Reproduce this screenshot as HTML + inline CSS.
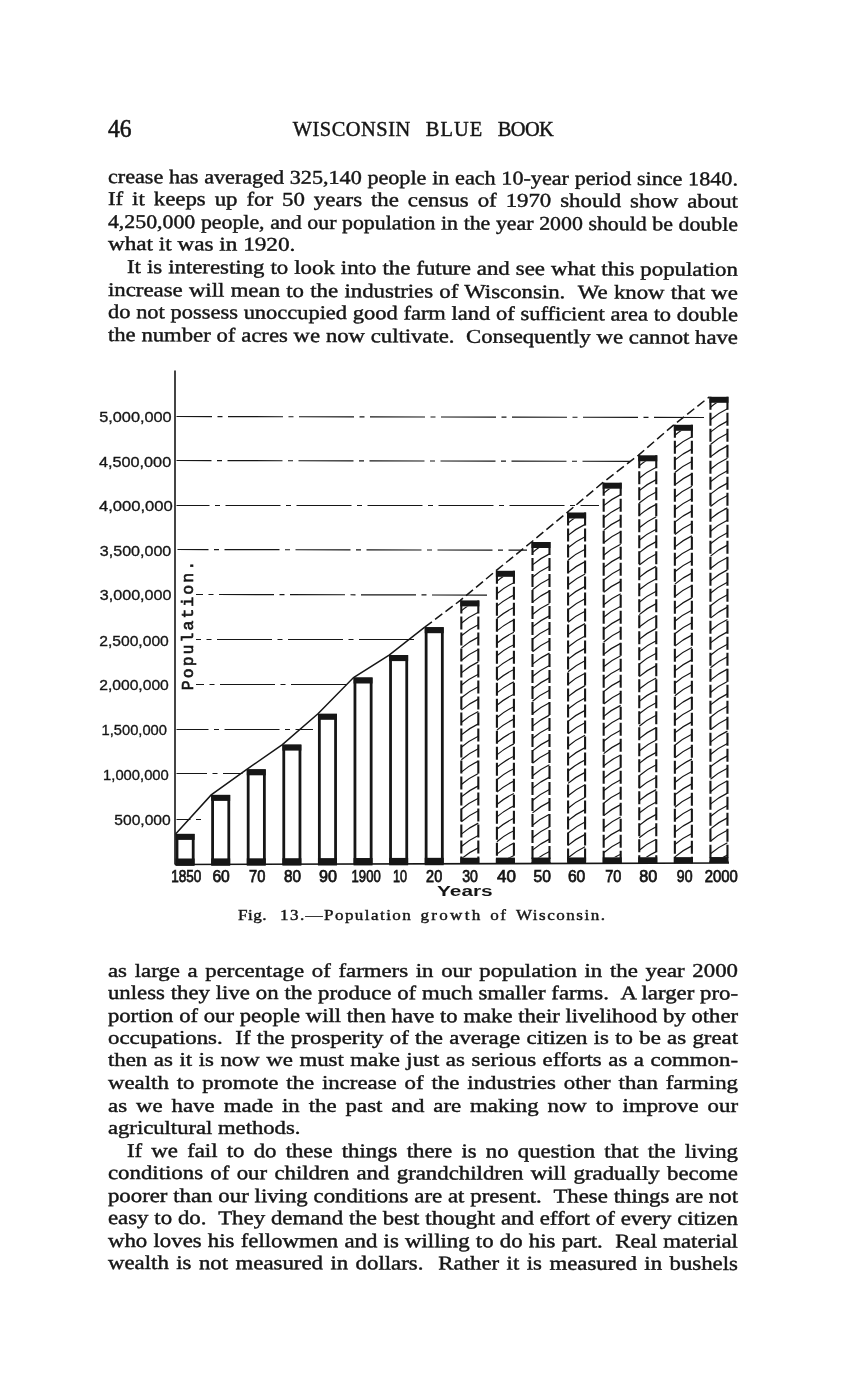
<!DOCTYPE html>
<html><head><meta charset="utf-8"><title>Wisconsin Blue Book, p. 46</title>
<style>
html,body{margin:0;padding:0;background:#fff;}
body{width:859px;height:1380px;position:relative;overflow:hidden;}
.l{position:absolute;white-space:nowrap;font-family:"Liberation Serif",serif;color:#161616;-webkit-text-stroke:0.42px #161616;transform-origin:0 0;}
.j{text-align:justify;text-align-last:justify;white-space:nowrap;}
svg{position:absolute;left:0;top:0;}
.s{font-family:"Liberation Serif",serif;fill:#161616;stroke:#161616;}
.a{font-family:"Liberation Sans",sans-serif;fill:#161616;}
</style></head><body>

<div class="l j" style="left:107.6px;top:165.52px;width:555.02px;height:22.0px;line-height:22.0px;font-size:19.5px;transform:rotate(0.218deg) scaleX(1.1351);">crease has averaged 325,140 people in each 10-year period since 1840.</div>
<div class="l j" style="left:107.6px;top:188.02px;width:538.46px;height:22.0px;line-height:22.0px;font-size:19.5px;transform:rotate(0.236deg) scaleX(1.1700);">If it keeps up for 50 years the census of 1970 should show about</div>
<div class="l j" style="left:107.6px;top:210.72px;width:562.77px;height:22.0px;line-height:22.0px;font-size:19.5px;transform:rotate(0.246deg) scaleX(1.1195);">4,250,000 people, and our population in the year 2000 should be double</div>
<div class="l" style="left:107.6px;top:233.42px;line-height:22.0px;font-size:19.5px;transform:rotate(0.236deg) scaleX(1.1890);">what it was in 1920.</div>
<div class="l j" style="left:126.6px;top:256.02px;width:522.22px;height:22.0px;line-height:22.0px;font-size:19.5px;transform:rotate(0.273deg) scaleX(1.1700);">It is interesting to look into the future and see what this population</div>
<div class="l j" style="left:107.6px;top:278.52px;width:538.46px;height:22.0px;line-height:22.0px;font-size:19.5px;transform:rotate(0.291deg) scaleX(1.1700);">increase will mean to the industries of Wisconsin. &nbsp;We know that we</div>
<div class="l j" style="left:107.6px;top:301.22px;width:547.71px;height:22.0px;line-height:22.0px;font-size:19.5px;transform:rotate(0.273deg) scaleX(1.1503);">do not possess unoccupied good farm land of sufficient area to double</div>
<div class="l j" style="left:107.6px;top:323.62px;width:542.03px;height:22.0px;line-height:22.0px;font-size:19.5px;transform:rotate(0.264deg) scaleX(1.1623);">the number of acres we now cultivate. &nbsp;Consequently we cannot have</div>
<div class="l j" style="left:107.6px;top:959.82px;width:538.46px;height:22.0px;line-height:22.0px;font-size:19.5px;transform:rotate(0.018deg) scaleX(1.1700);">as large a percentage of farmers in our population in the year 2000</div>
<div class="l j" style="left:107.6px;top:982.12px;width:539.54px;height:22.0px;line-height:22.0px;font-size:19.5px;transform:rotate(0.036deg) scaleX(1.1677);">unless they live on the produce of much smaller farms. &nbsp;A larger pro-</div>
<div class="l j" style="left:107.6px;top:1004.52px;width:543.18px;height:22.0px;line-height:22.0px;font-size:19.5px;transform:rotate(0.027deg) scaleX(1.1598);">portion of our people will then have to make their livelihood by other</div>
<div class="l j" style="left:107.6px;top:1027.02px;width:538.46px;height:22.0px;line-height:22.0px;font-size:19.5px;transform:rotate(0.000deg) scaleX(1.1700);">occupations. &nbsp;If the prosperity of the average citizen is to be as great</div>
<div class="l j" style="left:107.6px;top:1049.42px;width:538.46px;height:22.0px;line-height:22.0px;font-size:19.5px;transform:rotate(0.000deg) scaleX(1.1700);">then as it is now we must make just as serious efforts as a common-</div>
<div class="l j" style="left:107.6px;top:1072.12px;width:538.46px;height:22.0px;line-height:22.0px;font-size:19.5px;transform:rotate(0.000deg) scaleX(1.1700);">wealth to promote the increase of the industries other than farming</div>
<div class="l j" style="left:107.6px;top:1094.52px;width:538.46px;height:22.0px;line-height:22.0px;font-size:19.5px;transform:rotate(0.000deg) scaleX(1.1700);">as we have made in the past and are making now to improve our</div>
<div class="l" style="left:107.6px;top:1117.02px;line-height:22.0px;font-size:19.5px;transform:rotate(0.000deg) scaleX(1.1611);">agricultural methods.</div>
<div class="l j" style="left:126.6px;top:1140.32px;width:522.22px;height:22.0px;line-height:22.0px;font-size:19.5px;transform:rotate(0.064deg) scaleX(1.1700);">If we fail to do these things there is no question that the living</div>
<div class="l j" style="left:107.6px;top:1162.22px;width:538.46px;height:22.0px;line-height:22.0px;font-size:19.5px;transform:rotate(0.073deg) scaleX(1.1700);">conditions of our children and grandchildren will gradually become</div>
<div class="l j" style="left:107.6px;top:1185.02px;width:539.35px;height:22.0px;line-height:22.0px;font-size:19.5px;transform:rotate(0.055deg) scaleX(1.1681);">poorer than our living conditions are at present. &nbsp;These things are not</div>
<div class="l j" style="left:107.6px;top:1206.92px;width:538.46px;height:22.0px;line-height:22.0px;font-size:19.5px;transform:rotate(0.082deg) scaleX(1.1700);">easy to do. &nbsp;They demand the best thought and effort of every citizen</div>
<div class="l j" style="left:107.6px;top:1229.72px;width:538.46px;height:22.0px;line-height:22.0px;font-size:19.5px;transform:rotate(0.045deg) scaleX(1.1700);">who loves his fellowmen and is willing to do his part. &nbsp;Real material</div>
<div class="l j" style="left:107.6px;top:1252.02px;width:538.46px;height:22.0px;line-height:22.0px;font-size:19.5px;transform:rotate(0.082deg) scaleX(1.1700);">wealth is not measured in dollars. &nbsp;Rather it is measured in bushels</div>
<svg width="859" height="1380" viewBox="0 0 859 1380">
<text class="s" x="108.1" y="136.8" font-size="24.6" textLength="23.50" lengthAdjust="spacingAndGlyphs" stroke-width="0.6" >46</text>
<text class="s" x="292.8" y="136.3" font-size="20.4" textLength="117.40" lengthAdjust="spacing" stroke-width="0.45" >WISCONSIN</text>
<text class="s" x="425.8" y="136.3" font-size="20.4" textLength="56.40" lengthAdjust="spacing" stroke-width="0.45" >BLUE</text>
<text class="s" x="497.8" y="136.3" font-size="20.4" textLength="56.00" lengthAdjust="spacing" stroke-width="0.45" >BOOK</text>
<text class="s" transform="translate(238.1 919.8) scale(1.22 1)" x="0" y="0" font-size="14.0" textLength="23.36" lengthAdjust="spacing" stroke-width="0.4" >Fig.</text>
<text class="s" transform="translate(280.0 919.8) scale(1.22 1)" x="0" y="0" font-size="14.0" textLength="107.21" lengthAdjust="spacing" stroke-width="0.4" >13.—Population</text>
<text class="s" transform="translate(420.5 919.8) scale(1.22 1)" x="0" y="0" font-size="14.0" textLength="48.93" lengthAdjust="spacing" stroke-width="0.4" >growth</text>
<text class="s" transform="translate(490.3 919.8) scale(1.22 1)" x="0" y="0" font-size="14.0" textLength="12.87" lengthAdjust="spacing" stroke-width="0.4" >of</text>
<text class="s" transform="translate(515.9 919.8) scale(1.22 1)" x="0" y="0" font-size="14.0" textLength="73.03" lengthAdjust="spacing" stroke-width="0.4" >Wisconsin.</text>
<line x1="176.5" y1="416.5" x2="704" y2="417.50" stroke="#161616" stroke-width="1.15" stroke-dasharray="35.5 5.5 5 5.5 55 5.5 5 5.5 55 5.5 5 5.5 55 5.5 5 5.5 55 5.5 5 5.5 55 5.5 5 5.5 55 5.5 5 5.5 55 5.5 5 5.5 55 5.5 5 5.5 55"/>
<text x="99.2" y="422.3" textLength="72.5" lengthAdjust="spacingAndGlyphs" font-family="Liberation Sans, sans-serif" font-size="15.2" fill="#161616" stroke="#161616" stroke-width="0.35">5,000,000</text>
<line x1="176.5" y1="460.5" x2="630" y2="461.36" stroke="#161616" stroke-width="1.15" stroke-dasharray="35 5.5 5 5.5 55 5.5 5 5.5 55 5.5 5 5.5 55 5.5 5 5.5 55 5.5 5 5.5 55 5.5 5 5.5 55 5.5 5 5.5 55 5.5 5 5.5 55"/>
<text x="98.9" y="466.5" textLength="72.3" lengthAdjust="spacingAndGlyphs" font-family="Liberation Sans, sans-serif" font-size="15.2" fill="#161616" stroke="#161616" stroke-width="0.35">4,500,000</text>
<line x1="176.5" y1="505.5" x2="599" y2="505.50" stroke="#161616" stroke-width="1.15" stroke-dasharray="33 5.5 5 5.5 55 5.5 5 5.5 55 5.5 5 5.5 55 5.5 5 5.5 55 5.5 5 5.5 55 5.5 5 5.5 55 5.5 5 5.5 55"/>
<text x="98.9" y="510.5" textLength="73.9" lengthAdjust="spacingAndGlyphs" font-family="Liberation Sans, sans-serif" font-size="15.2" fill="#161616" stroke="#161616" stroke-width="0.35">4,000,000</text>
<line x1="177.5" y1="549.5" x2="527" y2="550.16" stroke="#161616" stroke-width="1.15" stroke-dasharray="31 5.5 5 5.5 55 5.5 5 5.5 55 5.5 5 5.5 55 5.5 5 5.5 55 5.5 5 5.5 55 5.5 5 5.5 55"/>
<text x="99.8" y="555.9" textLength="71.5" lengthAdjust="spacingAndGlyphs" font-family="Liberation Sans, sans-serif" font-size="15.2" fill="#161616" stroke="#161616" stroke-width="0.35">3,500,000</text>
<line x1="196" y1="594.5" x2="489" y2="595.06" stroke="#161616" stroke-width="1.15" stroke-dasharray="7 5.5 5 5.5 55 5.5 5 5.5 55 5.5 5 5.5 55 5.5 5 5.5 55 5.5 5 5.5 55 5.5 5 5.5 55"/>
<text x="99.8" y="600.2" textLength="71.7" lengthAdjust="spacingAndGlyphs" font-family="Liberation Sans, sans-serif" font-size="15.2" fill="#161616" stroke="#161616" stroke-width="0.35">3,000,000</text>
<line x1="196" y1="639.5" x2="419" y2="639.50" stroke="#161616" stroke-width="1.15" stroke-dasharray="5 5.5 5 5.5 55 5.5 5 5.5 55 5.5 5 5.5 55 5.5 5 5.5 55 5.5 5 5.5 55"/>
<text x="99.2" y="645.7" textLength="69.6" lengthAdjust="spacingAndGlyphs" font-family="Liberation Sans, sans-serif" font-size="15.2" fill="#161616" stroke="#161616" stroke-width="0.35">2,500,000</text>
<line x1="196" y1="684.5" x2="349" y2="684.50" stroke="#161616" stroke-width="1.15" stroke-dasharray="8 5.5 5 5.5 55 5.5 5 5.5 55 5.5 5 5.5 55 5.5 5 5.5 55"/>
<text x="99.2" y="689.8" textLength="69.6" lengthAdjust="spacingAndGlyphs" font-family="Liberation Sans, sans-serif" font-size="15.2" fill="#161616" stroke="#161616" stroke-width="0.35">2,000,000</text>
<line x1="176.5" y1="729.5" x2="313" y2="729.50" stroke="#161616" stroke-width="1.15" stroke-dasharray="32 5.5 5 5.5 55 5.5 5 5.5 55 5.5 5 5.5 55"/>
<text x="101.5" y="734.8" textLength="65.5" lengthAdjust="spacingAndGlyphs" font-family="Liberation Sans, sans-serif" font-size="15.2" fill="#161616" stroke="#161616" stroke-width="0.35">1,500,000</text>
<line x1="176.5" y1="773.5" x2="242.5" y2="773.50" stroke="#161616" stroke-width="1.15" stroke-dasharray="30.5 5.5 5 5.5 55 5.5 5 5.5 55"/>
<text x="103.1" y="780.2" textLength="65.7" lengthAdjust="spacingAndGlyphs" font-family="Liberation Sans, sans-serif" font-size="15.2" fill="#161616" stroke="#161616" stroke-width="0.35">1,000,000</text>
<line x1="176.5" y1="819.5" x2="206" y2="819.50" stroke="#161616" stroke-width="1.15" stroke-dasharray="14 5.5 5 5.5 55 5.5 5 5.5 55"/>
<text x="114.3" y="825.0" textLength="56.4" lengthAdjust="spacingAndGlyphs" font-family="Liberation Sans, sans-serif" font-size="15.2" fill="#161616" stroke="#161616" stroke-width="0.35">500,000</text>
<line x1="175.0" y1="370.5" x2="175.0" y2="864.5" stroke="#161616" stroke-width="1.6"/>
<line x1="174.9" y1="864.5" x2="729" y2="863.0" stroke="#161616" stroke-width="1.6"/>
<rect x="177.00" y="835.30" width="16.2" height="29.20" fill="none" stroke="#161616" stroke-width="2.8"/>
<rect x="175.60" y="833.90" width="19.0" height="6" fill="#161616"/>
<rect x="175.60" y="858.50" width="19.0" height="6" fill="#161616"/>
<rect x="212.59" y="796.30" width="16.2" height="68.10" fill="none" stroke="#161616" stroke-width="2.8"/>
<rect x="211.19" y="794.90" width="19.0" height="6" fill="#161616"/>
<rect x="211.19" y="858.40" width="19.0" height="6" fill="#161616"/>
<rect x="248.18" y="770.70" width="16.2" height="93.61" fill="none" stroke="#161616" stroke-width="2.8"/>
<rect x="246.78" y="769.30" width="19.0" height="6" fill="#161616"/>
<rect x="246.78" y="858.31" width="19.0" height="6" fill="#161616"/>
<rect x="283.77" y="746.00" width="16.2" height="118.21" fill="none" stroke="#161616" stroke-width="2.8"/>
<rect x="282.37" y="744.60" width="19.0" height="6" fill="#161616"/>
<rect x="282.37" y="858.21" width="19.0" height="6" fill="#161616"/>
<rect x="319.36" y="715.20" width="16.2" height="148.91" fill="none" stroke="#161616" stroke-width="2.8"/>
<rect x="317.96" y="713.80" width="19.0" height="6" fill="#161616"/>
<rect x="317.96" y="858.11" width="19.0" height="6" fill="#161616"/>
<rect x="354.95" y="678.90" width="16.2" height="185.12" fill="none" stroke="#161616" stroke-width="2.8"/>
<rect x="353.55" y="677.50" width="19.0" height="6" fill="#161616"/>
<rect x="353.55" y="858.02" width="19.0" height="6" fill="#161616"/>
<rect x="390.54" y="656.50" width="16.2" height="207.42" fill="none" stroke="#161616" stroke-width="2.8"/>
<rect x="389.14" y="655.10" width="19.0" height="6" fill="#161616"/>
<rect x="389.14" y="857.92" width="19.0" height="6" fill="#161616"/>
<rect x="426.13" y="628.60" width="16.2" height="235.22" fill="none" stroke="#161616" stroke-width="2.8"/>
<rect x="424.73" y="627.20" width="19.0" height="6" fill="#161616"/>
<rect x="424.73" y="857.82" width="19.0" height="6" fill="#161616"/>
<line x1="461.32" y1="600.4" x2="461.32" y2="863.7282616552222" stroke="#161616" stroke-width="2.1" stroke-dasharray="13 3"/>
<line x1="478.32" y1="600.4" x2="478.32" y2="863.7282616552222" stroke="#161616" stroke-width="2.1" stroke-dasharray="13 3"/>
<path d="M461.32 610.90 Q469.32 604.10 478.32 599.90" fill="none" stroke="#161616" stroke-width="1.2" clip-path="url(#cb8)"/>
<path d="M461.32 623.30 Q469.32 616.50 478.32 612.30" fill="none" stroke="#161616" stroke-width="1.2" clip-path="url(#cb8)"/>
<path d="M461.32 635.70 Q469.32 628.90 478.32 624.70" fill="none" stroke="#161616" stroke-width="1.2" clip-path="url(#cb8)"/>
<path d="M461.32 648.10 Q469.32 641.30 478.32 637.10" fill="none" stroke="#161616" stroke-width="1.2" clip-path="url(#cb8)"/>
<path d="M461.32 660.50 Q469.32 653.70 478.32 649.50" fill="none" stroke="#161616" stroke-width="1.2" clip-path="url(#cb8)"/>
<path d="M461.32 672.90 Q469.32 666.10 478.32 661.90" fill="none" stroke="#161616" stroke-width="1.2" clip-path="url(#cb8)"/>
<path d="M461.32 685.30 Q469.32 678.50 478.32 674.30" fill="none" stroke="#161616" stroke-width="1.2" clip-path="url(#cb8)"/>
<path d="M461.32 697.70 Q469.32 690.90 478.32 686.70" fill="none" stroke="#161616" stroke-width="1.2" clip-path="url(#cb8)"/>
<path d="M461.32 710.10 Q469.32 703.30 478.32 699.10" fill="none" stroke="#161616" stroke-width="1.2" clip-path="url(#cb8)"/>
<path d="M461.32 722.50 Q469.32 715.70 478.32 711.50" fill="none" stroke="#161616" stroke-width="1.2" clip-path="url(#cb8)"/>
<path d="M461.32 734.90 Q469.32 728.10 478.32 723.90" fill="none" stroke="#161616" stroke-width="1.2" clip-path="url(#cb8)"/>
<path d="M461.32 747.30 Q469.32 740.50 478.32 736.30" fill="none" stroke="#161616" stroke-width="1.2" clip-path="url(#cb8)"/>
<path d="M461.32 759.70 Q469.32 752.90 478.32 748.70" fill="none" stroke="#161616" stroke-width="1.2" clip-path="url(#cb8)"/>
<path d="M461.32 772.10 Q469.32 765.30 478.32 761.10" fill="none" stroke="#161616" stroke-width="1.2" clip-path="url(#cb8)"/>
<path d="M461.32 784.50 Q469.32 777.70 478.32 773.50" fill="none" stroke="#161616" stroke-width="1.2" clip-path="url(#cb8)"/>
<path d="M461.32 796.90 Q469.32 790.10 478.32 785.90" fill="none" stroke="#161616" stroke-width="1.2" clip-path="url(#cb8)"/>
<path d="M461.32 809.30 Q469.32 802.50 478.32 798.30" fill="none" stroke="#161616" stroke-width="1.2" clip-path="url(#cb8)"/>
<path d="M461.32 821.70 Q469.32 814.90 478.32 810.70" fill="none" stroke="#161616" stroke-width="1.2" clip-path="url(#cb8)"/>
<path d="M461.32 834.10 Q469.32 827.30 478.32 823.10" fill="none" stroke="#161616" stroke-width="1.2" clip-path="url(#cb8)"/>
<path d="M461.32 846.50 Q469.32 839.70 478.32 835.50" fill="none" stroke="#161616" stroke-width="1.2" clip-path="url(#cb8)"/>
<path d="M461.32 858.90 Q469.32 852.10 478.32 847.90" fill="none" stroke="#161616" stroke-width="1.2" clip-path="url(#cb8)"/>
<clipPath id="cb8"><rect x="460.32" y="606.40" width="19.0" height="251.33"/></clipPath>
<rect x="460.32" y="600.40" width="19.0" height="6" fill="#161616"/>
<rect x="460.32" y="857.73" width="19.0" height="6" fill="#161616"/>
<line x1="496.91" y1="570.8" x2="496.91" y2="863.631794362125" stroke="#161616" stroke-width="2.1" stroke-dasharray="13 3"/>
<line x1="513.91" y1="570.8" x2="513.91" y2="863.631794362125" stroke="#161616" stroke-width="2.1" stroke-dasharray="13 3"/>
<path d="M496.91 581.30 Q504.91 574.50 513.91 570.30" fill="none" stroke="#161616" stroke-width="1.2" clip-path="url(#cb9)"/>
<path d="M496.91 593.70 Q504.91 586.90 513.91 582.70" fill="none" stroke="#161616" stroke-width="1.2" clip-path="url(#cb9)"/>
<path d="M496.91 606.10 Q504.91 599.30 513.91 595.10" fill="none" stroke="#161616" stroke-width="1.2" clip-path="url(#cb9)"/>
<path d="M496.91 618.50 Q504.91 611.70 513.91 607.50" fill="none" stroke="#161616" stroke-width="1.2" clip-path="url(#cb9)"/>
<path d="M496.91 630.90 Q504.91 624.10 513.91 619.90" fill="none" stroke="#161616" stroke-width="1.2" clip-path="url(#cb9)"/>
<path d="M496.91 643.30 Q504.91 636.50 513.91 632.30" fill="none" stroke="#161616" stroke-width="1.2" clip-path="url(#cb9)"/>
<path d="M496.91 655.70 Q504.91 648.90 513.91 644.70" fill="none" stroke="#161616" stroke-width="1.2" clip-path="url(#cb9)"/>
<path d="M496.91 668.10 Q504.91 661.30 513.91 657.10" fill="none" stroke="#161616" stroke-width="1.2" clip-path="url(#cb9)"/>
<path d="M496.91 680.50 Q504.91 673.70 513.91 669.50" fill="none" stroke="#161616" stroke-width="1.2" clip-path="url(#cb9)"/>
<path d="M496.91 692.90 Q504.91 686.10 513.91 681.90" fill="none" stroke="#161616" stroke-width="1.2" clip-path="url(#cb9)"/>
<path d="M496.91 705.30 Q504.91 698.50 513.91 694.30" fill="none" stroke="#161616" stroke-width="1.2" clip-path="url(#cb9)"/>
<path d="M496.91 717.70 Q504.91 710.90 513.91 706.70" fill="none" stroke="#161616" stroke-width="1.2" clip-path="url(#cb9)"/>
<path d="M496.91 730.10 Q504.91 723.30 513.91 719.10" fill="none" stroke="#161616" stroke-width="1.2" clip-path="url(#cb9)"/>
<path d="M496.91 742.50 Q504.91 735.70 513.91 731.50" fill="none" stroke="#161616" stroke-width="1.2" clip-path="url(#cb9)"/>
<path d="M496.91 754.90 Q504.91 748.10 513.91 743.90" fill="none" stroke="#161616" stroke-width="1.2" clip-path="url(#cb9)"/>
<path d="M496.91 767.30 Q504.91 760.50 513.91 756.30" fill="none" stroke="#161616" stroke-width="1.2" clip-path="url(#cb9)"/>
<path d="M496.91 779.70 Q504.91 772.90 513.91 768.70" fill="none" stroke="#161616" stroke-width="1.2" clip-path="url(#cb9)"/>
<path d="M496.91 792.10 Q504.91 785.30 513.91 781.10" fill="none" stroke="#161616" stroke-width="1.2" clip-path="url(#cb9)"/>
<path d="M496.91 804.50 Q504.91 797.70 513.91 793.50" fill="none" stroke="#161616" stroke-width="1.2" clip-path="url(#cb9)"/>
<path d="M496.91 816.90 Q504.91 810.10 513.91 805.90" fill="none" stroke="#161616" stroke-width="1.2" clip-path="url(#cb9)"/>
<path d="M496.91 829.30 Q504.91 822.50 513.91 818.30" fill="none" stroke="#161616" stroke-width="1.2" clip-path="url(#cb9)"/>
<path d="M496.91 841.70 Q504.91 834.90 513.91 830.70" fill="none" stroke="#161616" stroke-width="1.2" clip-path="url(#cb9)"/>
<path d="M496.91 854.10 Q504.91 847.30 513.91 843.10" fill="none" stroke="#161616" stroke-width="1.2" clip-path="url(#cb9)"/>
<path d="M496.91 866.50 Q504.91 859.70 513.91 855.50" fill="none" stroke="#161616" stroke-width="1.2" clip-path="url(#cb9)"/>
<clipPath id="cb9"><rect x="495.91" y="576.80" width="19.0" height="280.83"/></clipPath>
<rect x="495.91" y="570.80" width="19.0" height="6" fill="#161616"/>
<rect x="495.91" y="857.63" width="19.0" height="6" fill="#161616"/>
<line x1="532.50" y1="542.0" x2="532.50" y2="863.5353270690279" stroke="#161616" stroke-width="2.1" stroke-dasharray="13 3"/>
<line x1="549.50" y1="542.0" x2="549.50" y2="863.5353270690279" stroke="#161616" stroke-width="2.1" stroke-dasharray="13 3"/>
<path d="M532.50 552.50 Q540.50 545.70 549.50 541.50" fill="none" stroke="#161616" stroke-width="1.2" clip-path="url(#cb10)"/>
<path d="M532.50 564.90 Q540.50 558.10 549.50 553.90" fill="none" stroke="#161616" stroke-width="1.2" clip-path="url(#cb10)"/>
<path d="M532.50 577.30 Q540.50 570.50 549.50 566.30" fill="none" stroke="#161616" stroke-width="1.2" clip-path="url(#cb10)"/>
<path d="M532.50 589.70 Q540.50 582.90 549.50 578.70" fill="none" stroke="#161616" stroke-width="1.2" clip-path="url(#cb10)"/>
<path d="M532.50 602.10 Q540.50 595.30 549.50 591.10" fill="none" stroke="#161616" stroke-width="1.2" clip-path="url(#cb10)"/>
<path d="M532.50 614.50 Q540.50 607.70 549.50 603.50" fill="none" stroke="#161616" stroke-width="1.2" clip-path="url(#cb10)"/>
<path d="M532.50 626.90 Q540.50 620.10 549.50 615.90" fill="none" stroke="#161616" stroke-width="1.2" clip-path="url(#cb10)"/>
<path d="M532.50 639.30 Q540.50 632.50 549.50 628.30" fill="none" stroke="#161616" stroke-width="1.2" clip-path="url(#cb10)"/>
<path d="M532.50 651.70 Q540.50 644.90 549.50 640.70" fill="none" stroke="#161616" stroke-width="1.2" clip-path="url(#cb10)"/>
<path d="M532.50 664.10 Q540.50 657.30 549.50 653.10" fill="none" stroke="#161616" stroke-width="1.2" clip-path="url(#cb10)"/>
<path d="M532.50 676.50 Q540.50 669.70 549.50 665.50" fill="none" stroke="#161616" stroke-width="1.2" clip-path="url(#cb10)"/>
<path d="M532.50 688.90 Q540.50 682.10 549.50 677.90" fill="none" stroke="#161616" stroke-width="1.2" clip-path="url(#cb10)"/>
<path d="M532.50 701.30 Q540.50 694.50 549.50 690.30" fill="none" stroke="#161616" stroke-width="1.2" clip-path="url(#cb10)"/>
<path d="M532.50 713.70 Q540.50 706.90 549.50 702.70" fill="none" stroke="#161616" stroke-width="1.2" clip-path="url(#cb10)"/>
<path d="M532.50 726.10 Q540.50 719.30 549.50 715.10" fill="none" stroke="#161616" stroke-width="1.2" clip-path="url(#cb10)"/>
<path d="M532.50 738.50 Q540.50 731.70 549.50 727.50" fill="none" stroke="#161616" stroke-width="1.2" clip-path="url(#cb10)"/>
<path d="M532.50 750.90 Q540.50 744.10 549.50 739.90" fill="none" stroke="#161616" stroke-width="1.2" clip-path="url(#cb10)"/>
<path d="M532.50 763.30 Q540.50 756.50 549.50 752.30" fill="none" stroke="#161616" stroke-width="1.2" clip-path="url(#cb10)"/>
<path d="M532.50 775.70 Q540.50 768.90 549.50 764.70" fill="none" stroke="#161616" stroke-width="1.2" clip-path="url(#cb10)"/>
<path d="M532.50 788.10 Q540.50 781.30 549.50 777.10" fill="none" stroke="#161616" stroke-width="1.2" clip-path="url(#cb10)"/>
<path d="M532.50 800.50 Q540.50 793.70 549.50 789.50" fill="none" stroke="#161616" stroke-width="1.2" clip-path="url(#cb10)"/>
<path d="M532.50 812.90 Q540.50 806.10 549.50 801.90" fill="none" stroke="#161616" stroke-width="1.2" clip-path="url(#cb10)"/>
<path d="M532.50 825.30 Q540.50 818.50 549.50 814.30" fill="none" stroke="#161616" stroke-width="1.2" clip-path="url(#cb10)"/>
<path d="M532.50 837.70 Q540.50 830.90 549.50 826.70" fill="none" stroke="#161616" stroke-width="1.2" clip-path="url(#cb10)"/>
<path d="M532.50 850.10 Q540.50 843.30 549.50 839.10" fill="none" stroke="#161616" stroke-width="1.2" clip-path="url(#cb10)"/>
<path d="M532.50 862.50 Q540.50 855.70 549.50 851.50" fill="none" stroke="#161616" stroke-width="1.2" clip-path="url(#cb10)"/>
<clipPath id="cb10"><rect x="531.50" y="548.00" width="19.0" height="309.54"/></clipPath>
<rect x="531.50" y="542.00" width="19.0" height="6" fill="#161616"/>
<rect x="531.50" y="857.54" width="19.0" height="6" fill="#161616"/>
<line x1="568.09" y1="512.5" x2="568.09" y2="863.4388597759306" stroke="#161616" stroke-width="2.1" stroke-dasharray="13 3"/>
<line x1="585.09" y1="512.5" x2="585.09" y2="863.4388597759306" stroke="#161616" stroke-width="2.1" stroke-dasharray="13 3"/>
<path d="M568.09 523.00 Q576.09 516.20 585.09 512.00" fill="none" stroke="#161616" stroke-width="1.2" clip-path="url(#cb11)"/>
<path d="M568.09 535.40 Q576.09 528.60 585.09 524.40" fill="none" stroke="#161616" stroke-width="1.2" clip-path="url(#cb11)"/>
<path d="M568.09 547.80 Q576.09 541.00 585.09 536.80" fill="none" stroke="#161616" stroke-width="1.2" clip-path="url(#cb11)"/>
<path d="M568.09 560.20 Q576.09 553.40 585.09 549.20" fill="none" stroke="#161616" stroke-width="1.2" clip-path="url(#cb11)"/>
<path d="M568.09 572.60 Q576.09 565.80 585.09 561.60" fill="none" stroke="#161616" stroke-width="1.2" clip-path="url(#cb11)"/>
<path d="M568.09 585.00 Q576.09 578.20 585.09 574.00" fill="none" stroke="#161616" stroke-width="1.2" clip-path="url(#cb11)"/>
<path d="M568.09 597.40 Q576.09 590.60 585.09 586.40" fill="none" stroke="#161616" stroke-width="1.2" clip-path="url(#cb11)"/>
<path d="M568.09 609.80 Q576.09 603.00 585.09 598.80" fill="none" stroke="#161616" stroke-width="1.2" clip-path="url(#cb11)"/>
<path d="M568.09 622.20 Q576.09 615.40 585.09 611.20" fill="none" stroke="#161616" stroke-width="1.2" clip-path="url(#cb11)"/>
<path d="M568.09 634.60 Q576.09 627.80 585.09 623.60" fill="none" stroke="#161616" stroke-width="1.2" clip-path="url(#cb11)"/>
<path d="M568.09 647.00 Q576.09 640.20 585.09 636.00" fill="none" stroke="#161616" stroke-width="1.2" clip-path="url(#cb11)"/>
<path d="M568.09 659.40 Q576.09 652.60 585.09 648.40" fill="none" stroke="#161616" stroke-width="1.2" clip-path="url(#cb11)"/>
<path d="M568.09 671.80 Q576.09 665.00 585.09 660.80" fill="none" stroke="#161616" stroke-width="1.2" clip-path="url(#cb11)"/>
<path d="M568.09 684.20 Q576.09 677.40 585.09 673.20" fill="none" stroke="#161616" stroke-width="1.2" clip-path="url(#cb11)"/>
<path d="M568.09 696.60 Q576.09 689.80 585.09 685.60" fill="none" stroke="#161616" stroke-width="1.2" clip-path="url(#cb11)"/>
<path d="M568.09 709.00 Q576.09 702.20 585.09 698.00" fill="none" stroke="#161616" stroke-width="1.2" clip-path="url(#cb11)"/>
<path d="M568.09 721.40 Q576.09 714.60 585.09 710.40" fill="none" stroke="#161616" stroke-width="1.2" clip-path="url(#cb11)"/>
<path d="M568.09 733.80 Q576.09 727.00 585.09 722.80" fill="none" stroke="#161616" stroke-width="1.2" clip-path="url(#cb11)"/>
<path d="M568.09 746.20 Q576.09 739.40 585.09 735.20" fill="none" stroke="#161616" stroke-width="1.2" clip-path="url(#cb11)"/>
<path d="M568.09 758.60 Q576.09 751.80 585.09 747.60" fill="none" stroke="#161616" stroke-width="1.2" clip-path="url(#cb11)"/>
<path d="M568.09 771.00 Q576.09 764.20 585.09 760.00" fill="none" stroke="#161616" stroke-width="1.2" clip-path="url(#cb11)"/>
<path d="M568.09 783.40 Q576.09 776.60 585.09 772.40" fill="none" stroke="#161616" stroke-width="1.2" clip-path="url(#cb11)"/>
<path d="M568.09 795.80 Q576.09 789.00 585.09 784.80" fill="none" stroke="#161616" stroke-width="1.2" clip-path="url(#cb11)"/>
<path d="M568.09 808.20 Q576.09 801.40 585.09 797.20" fill="none" stroke="#161616" stroke-width="1.2" clip-path="url(#cb11)"/>
<path d="M568.09 820.60 Q576.09 813.80 585.09 809.60" fill="none" stroke="#161616" stroke-width="1.2" clip-path="url(#cb11)"/>
<path d="M568.09 833.00 Q576.09 826.20 585.09 822.00" fill="none" stroke="#161616" stroke-width="1.2" clip-path="url(#cb11)"/>
<path d="M568.09 845.40 Q576.09 838.60 585.09 834.40" fill="none" stroke="#161616" stroke-width="1.2" clip-path="url(#cb11)"/>
<path d="M568.09 857.80 Q576.09 851.00 585.09 846.80" fill="none" stroke="#161616" stroke-width="1.2" clip-path="url(#cb11)"/>
<clipPath id="cb11"><rect x="567.09" y="518.50" width="19.0" height="338.94"/></clipPath>
<rect x="567.09" y="512.50" width="19.0" height="6" fill="#161616"/>
<rect x="567.09" y="857.44" width="19.0" height="6" fill="#161616"/>
<line x1="603.68" y1="482.7" x2="603.68" y2="863.3423924828334" stroke="#161616" stroke-width="2.1" stroke-dasharray="13 3"/>
<line x1="620.68" y1="482.7" x2="620.68" y2="863.3423924828334" stroke="#161616" stroke-width="2.1" stroke-dasharray="13 3"/>
<path d="M603.68 493.20 Q611.68 486.40 620.68 482.20" fill="none" stroke="#161616" stroke-width="1.2" clip-path="url(#cb12)"/>
<path d="M603.68 505.60 Q611.68 498.80 620.68 494.60" fill="none" stroke="#161616" stroke-width="1.2" clip-path="url(#cb12)"/>
<path d="M603.68 518.00 Q611.68 511.20 620.68 507.00" fill="none" stroke="#161616" stroke-width="1.2" clip-path="url(#cb12)"/>
<path d="M603.68 530.40 Q611.68 523.60 620.68 519.40" fill="none" stroke="#161616" stroke-width="1.2" clip-path="url(#cb12)"/>
<path d="M603.68 542.80 Q611.68 536.00 620.68 531.80" fill="none" stroke="#161616" stroke-width="1.2" clip-path="url(#cb12)"/>
<path d="M603.68 555.20 Q611.68 548.40 620.68 544.20" fill="none" stroke="#161616" stroke-width="1.2" clip-path="url(#cb12)"/>
<path d="M603.68 567.60 Q611.68 560.80 620.68 556.60" fill="none" stroke="#161616" stroke-width="1.2" clip-path="url(#cb12)"/>
<path d="M603.68 580.00 Q611.68 573.20 620.68 569.00" fill="none" stroke="#161616" stroke-width="1.2" clip-path="url(#cb12)"/>
<path d="M603.68 592.40 Q611.68 585.60 620.68 581.40" fill="none" stroke="#161616" stroke-width="1.2" clip-path="url(#cb12)"/>
<path d="M603.68 604.80 Q611.68 598.00 620.68 593.80" fill="none" stroke="#161616" stroke-width="1.2" clip-path="url(#cb12)"/>
<path d="M603.68 617.20 Q611.68 610.40 620.68 606.20" fill="none" stroke="#161616" stroke-width="1.2" clip-path="url(#cb12)"/>
<path d="M603.68 629.60 Q611.68 622.80 620.68 618.60" fill="none" stroke="#161616" stroke-width="1.2" clip-path="url(#cb12)"/>
<path d="M603.68 642.00 Q611.68 635.20 620.68 631.00" fill="none" stroke="#161616" stroke-width="1.2" clip-path="url(#cb12)"/>
<path d="M603.68 654.40 Q611.68 647.60 620.68 643.40" fill="none" stroke="#161616" stroke-width="1.2" clip-path="url(#cb12)"/>
<path d="M603.68 666.80 Q611.68 660.00 620.68 655.80" fill="none" stroke="#161616" stroke-width="1.2" clip-path="url(#cb12)"/>
<path d="M603.68 679.20 Q611.68 672.40 620.68 668.20" fill="none" stroke="#161616" stroke-width="1.2" clip-path="url(#cb12)"/>
<path d="M603.68 691.60 Q611.68 684.80 620.68 680.60" fill="none" stroke="#161616" stroke-width="1.2" clip-path="url(#cb12)"/>
<path d="M603.68 704.00 Q611.68 697.20 620.68 693.00" fill="none" stroke="#161616" stroke-width="1.2" clip-path="url(#cb12)"/>
<path d="M603.68 716.40 Q611.68 709.60 620.68 705.40" fill="none" stroke="#161616" stroke-width="1.2" clip-path="url(#cb12)"/>
<path d="M603.68 728.80 Q611.68 722.00 620.68 717.80" fill="none" stroke="#161616" stroke-width="1.2" clip-path="url(#cb12)"/>
<path d="M603.68 741.20 Q611.68 734.40 620.68 730.20" fill="none" stroke="#161616" stroke-width="1.2" clip-path="url(#cb12)"/>
<path d="M603.68 753.60 Q611.68 746.80 620.68 742.60" fill="none" stroke="#161616" stroke-width="1.2" clip-path="url(#cb12)"/>
<path d="M603.68 766.00 Q611.68 759.20 620.68 755.00" fill="none" stroke="#161616" stroke-width="1.2" clip-path="url(#cb12)"/>
<path d="M603.68 778.40 Q611.68 771.60 620.68 767.40" fill="none" stroke="#161616" stroke-width="1.2" clip-path="url(#cb12)"/>
<path d="M603.68 790.80 Q611.68 784.00 620.68 779.80" fill="none" stroke="#161616" stroke-width="1.2" clip-path="url(#cb12)"/>
<path d="M603.68 803.20 Q611.68 796.40 620.68 792.20" fill="none" stroke="#161616" stroke-width="1.2" clip-path="url(#cb12)"/>
<path d="M603.68 815.60 Q611.68 808.80 620.68 804.60" fill="none" stroke="#161616" stroke-width="1.2" clip-path="url(#cb12)"/>
<path d="M603.68 828.00 Q611.68 821.20 620.68 817.00" fill="none" stroke="#161616" stroke-width="1.2" clip-path="url(#cb12)"/>
<path d="M603.68 840.40 Q611.68 833.60 620.68 829.40" fill="none" stroke="#161616" stroke-width="1.2" clip-path="url(#cb12)"/>
<path d="M603.68 852.80 Q611.68 846.00 620.68 841.80" fill="none" stroke="#161616" stroke-width="1.2" clip-path="url(#cb12)"/>
<path d="M603.68 865.20 Q611.68 858.40 620.68 854.20" fill="none" stroke="#161616" stroke-width="1.2" clip-path="url(#cb12)"/>
<clipPath id="cb12"><rect x="602.68" y="488.70" width="19.0" height="368.64"/></clipPath>
<rect x="602.68" y="482.70" width="19.0" height="6" fill="#161616"/>
<rect x="602.68" y="857.34" width="19.0" height="6" fill="#161616"/>
<line x1="639.27" y1="455.3" x2="639.27" y2="863.2459251897362" stroke="#161616" stroke-width="2.1" stroke-dasharray="13 3"/>
<line x1="656.27" y1="455.3" x2="656.27" y2="863.2459251897362" stroke="#161616" stroke-width="2.1" stroke-dasharray="13 3"/>
<path d="M639.27 465.80 Q647.27 459.00 656.27 454.80" fill="none" stroke="#161616" stroke-width="1.2" clip-path="url(#cb13)"/>
<path d="M639.27 478.20 Q647.27 471.40 656.27 467.20" fill="none" stroke="#161616" stroke-width="1.2" clip-path="url(#cb13)"/>
<path d="M639.27 490.60 Q647.27 483.80 656.27 479.60" fill="none" stroke="#161616" stroke-width="1.2" clip-path="url(#cb13)"/>
<path d="M639.27 503.00 Q647.27 496.20 656.27 492.00" fill="none" stroke="#161616" stroke-width="1.2" clip-path="url(#cb13)"/>
<path d="M639.27 515.40 Q647.27 508.60 656.27 504.40" fill="none" stroke="#161616" stroke-width="1.2" clip-path="url(#cb13)"/>
<path d="M639.27 527.80 Q647.27 521.00 656.27 516.80" fill="none" stroke="#161616" stroke-width="1.2" clip-path="url(#cb13)"/>
<path d="M639.27 540.20 Q647.27 533.40 656.27 529.20" fill="none" stroke="#161616" stroke-width="1.2" clip-path="url(#cb13)"/>
<path d="M639.27 552.60 Q647.27 545.80 656.27 541.60" fill="none" stroke="#161616" stroke-width="1.2" clip-path="url(#cb13)"/>
<path d="M639.27 565.00 Q647.27 558.20 656.27 554.00" fill="none" stroke="#161616" stroke-width="1.2" clip-path="url(#cb13)"/>
<path d="M639.27 577.40 Q647.27 570.60 656.27 566.40" fill="none" stroke="#161616" stroke-width="1.2" clip-path="url(#cb13)"/>
<path d="M639.27 589.80 Q647.27 583.00 656.27 578.80" fill="none" stroke="#161616" stroke-width="1.2" clip-path="url(#cb13)"/>
<path d="M639.27 602.20 Q647.27 595.40 656.27 591.20" fill="none" stroke="#161616" stroke-width="1.2" clip-path="url(#cb13)"/>
<path d="M639.27 614.60 Q647.27 607.80 656.27 603.60" fill="none" stroke="#161616" stroke-width="1.2" clip-path="url(#cb13)"/>
<path d="M639.27 627.00 Q647.27 620.20 656.27 616.00" fill="none" stroke="#161616" stroke-width="1.2" clip-path="url(#cb13)"/>
<path d="M639.27 639.40 Q647.27 632.60 656.27 628.40" fill="none" stroke="#161616" stroke-width="1.2" clip-path="url(#cb13)"/>
<path d="M639.27 651.80 Q647.27 645.00 656.27 640.80" fill="none" stroke="#161616" stroke-width="1.2" clip-path="url(#cb13)"/>
<path d="M639.27 664.20 Q647.27 657.40 656.27 653.20" fill="none" stroke="#161616" stroke-width="1.2" clip-path="url(#cb13)"/>
<path d="M639.27 676.60 Q647.27 669.80 656.27 665.60" fill="none" stroke="#161616" stroke-width="1.2" clip-path="url(#cb13)"/>
<path d="M639.27 689.00 Q647.27 682.20 656.27 678.00" fill="none" stroke="#161616" stroke-width="1.2" clip-path="url(#cb13)"/>
<path d="M639.27 701.40 Q647.27 694.60 656.27 690.40" fill="none" stroke="#161616" stroke-width="1.2" clip-path="url(#cb13)"/>
<path d="M639.27 713.80 Q647.27 707.00 656.27 702.80" fill="none" stroke="#161616" stroke-width="1.2" clip-path="url(#cb13)"/>
<path d="M639.27 726.20 Q647.27 719.40 656.27 715.20" fill="none" stroke="#161616" stroke-width="1.2" clip-path="url(#cb13)"/>
<path d="M639.27 738.60 Q647.27 731.80 656.27 727.60" fill="none" stroke="#161616" stroke-width="1.2" clip-path="url(#cb13)"/>
<path d="M639.27 751.00 Q647.27 744.20 656.27 740.00" fill="none" stroke="#161616" stroke-width="1.2" clip-path="url(#cb13)"/>
<path d="M639.27 763.40 Q647.27 756.60 656.27 752.40" fill="none" stroke="#161616" stroke-width="1.2" clip-path="url(#cb13)"/>
<path d="M639.27 775.80 Q647.27 769.00 656.27 764.80" fill="none" stroke="#161616" stroke-width="1.2" clip-path="url(#cb13)"/>
<path d="M639.27 788.20 Q647.27 781.40 656.27 777.20" fill="none" stroke="#161616" stroke-width="1.2" clip-path="url(#cb13)"/>
<path d="M639.27 800.60 Q647.27 793.80 656.27 789.60" fill="none" stroke="#161616" stroke-width="1.2" clip-path="url(#cb13)"/>
<path d="M639.27 813.00 Q647.27 806.20 656.27 802.00" fill="none" stroke="#161616" stroke-width="1.2" clip-path="url(#cb13)"/>
<path d="M639.27 825.40 Q647.27 818.60 656.27 814.40" fill="none" stroke="#161616" stroke-width="1.2" clip-path="url(#cb13)"/>
<path d="M639.27 837.80 Q647.27 831.00 656.27 826.80" fill="none" stroke="#161616" stroke-width="1.2" clip-path="url(#cb13)"/>
<path d="M639.27 850.20 Q647.27 843.40 656.27 839.20" fill="none" stroke="#161616" stroke-width="1.2" clip-path="url(#cb13)"/>
<path d="M639.27 862.60 Q647.27 855.80 656.27 851.60" fill="none" stroke="#161616" stroke-width="1.2" clip-path="url(#cb13)"/>
<clipPath id="cb13"><rect x="638.27" y="461.30" width="19.0" height="395.95"/></clipPath>
<rect x="638.27" y="455.30" width="19.0" height="6" fill="#161616"/>
<rect x="638.27" y="857.25" width="19.0" height="6" fill="#161616"/>
<line x1="674.86" y1="424.8" x2="674.86" y2="863.149457896639" stroke="#161616" stroke-width="2.1" stroke-dasharray="13 3"/>
<line x1="691.86" y1="424.8" x2="691.86" y2="863.149457896639" stroke="#161616" stroke-width="2.1" stroke-dasharray="13 3"/>
<path d="M674.86 435.30 Q682.86 428.50 691.86 424.30" fill="none" stroke="#161616" stroke-width="1.2" clip-path="url(#cb14)"/>
<path d="M674.86 447.70 Q682.86 440.90 691.86 436.70" fill="none" stroke="#161616" stroke-width="1.2" clip-path="url(#cb14)"/>
<path d="M674.86 460.10 Q682.86 453.30 691.86 449.10" fill="none" stroke="#161616" stroke-width="1.2" clip-path="url(#cb14)"/>
<path d="M674.86 472.50 Q682.86 465.70 691.86 461.50" fill="none" stroke="#161616" stroke-width="1.2" clip-path="url(#cb14)"/>
<path d="M674.86 484.90 Q682.86 478.10 691.86 473.90" fill="none" stroke="#161616" stroke-width="1.2" clip-path="url(#cb14)"/>
<path d="M674.86 497.30 Q682.86 490.50 691.86 486.30" fill="none" stroke="#161616" stroke-width="1.2" clip-path="url(#cb14)"/>
<path d="M674.86 509.70 Q682.86 502.90 691.86 498.70" fill="none" stroke="#161616" stroke-width="1.2" clip-path="url(#cb14)"/>
<path d="M674.86 522.10 Q682.86 515.30 691.86 511.10" fill="none" stroke="#161616" stroke-width="1.2" clip-path="url(#cb14)"/>
<path d="M674.86 534.50 Q682.86 527.70 691.86 523.50" fill="none" stroke="#161616" stroke-width="1.2" clip-path="url(#cb14)"/>
<path d="M674.86 546.90 Q682.86 540.10 691.86 535.90" fill="none" stroke="#161616" stroke-width="1.2" clip-path="url(#cb14)"/>
<path d="M674.86 559.30 Q682.86 552.50 691.86 548.30" fill="none" stroke="#161616" stroke-width="1.2" clip-path="url(#cb14)"/>
<path d="M674.86 571.70 Q682.86 564.90 691.86 560.70" fill="none" stroke="#161616" stroke-width="1.2" clip-path="url(#cb14)"/>
<path d="M674.86 584.10 Q682.86 577.30 691.86 573.10" fill="none" stroke="#161616" stroke-width="1.2" clip-path="url(#cb14)"/>
<path d="M674.86 596.50 Q682.86 589.70 691.86 585.50" fill="none" stroke="#161616" stroke-width="1.2" clip-path="url(#cb14)"/>
<path d="M674.86 608.90 Q682.86 602.10 691.86 597.90" fill="none" stroke="#161616" stroke-width="1.2" clip-path="url(#cb14)"/>
<path d="M674.86 621.30 Q682.86 614.50 691.86 610.30" fill="none" stroke="#161616" stroke-width="1.2" clip-path="url(#cb14)"/>
<path d="M674.86 633.70 Q682.86 626.90 691.86 622.70" fill="none" stroke="#161616" stroke-width="1.2" clip-path="url(#cb14)"/>
<path d="M674.86 646.10 Q682.86 639.30 691.86 635.10" fill="none" stroke="#161616" stroke-width="1.2" clip-path="url(#cb14)"/>
<path d="M674.86 658.50 Q682.86 651.70 691.86 647.50" fill="none" stroke="#161616" stroke-width="1.2" clip-path="url(#cb14)"/>
<path d="M674.86 670.90 Q682.86 664.10 691.86 659.90" fill="none" stroke="#161616" stroke-width="1.2" clip-path="url(#cb14)"/>
<path d="M674.86 683.30 Q682.86 676.50 691.86 672.30" fill="none" stroke="#161616" stroke-width="1.2" clip-path="url(#cb14)"/>
<path d="M674.86 695.70 Q682.86 688.90 691.86 684.70" fill="none" stroke="#161616" stroke-width="1.2" clip-path="url(#cb14)"/>
<path d="M674.86 708.10 Q682.86 701.30 691.86 697.10" fill="none" stroke="#161616" stroke-width="1.2" clip-path="url(#cb14)"/>
<path d="M674.86 720.50 Q682.86 713.70 691.86 709.50" fill="none" stroke="#161616" stroke-width="1.2" clip-path="url(#cb14)"/>
<path d="M674.86 732.90 Q682.86 726.10 691.86 721.90" fill="none" stroke="#161616" stroke-width="1.2" clip-path="url(#cb14)"/>
<path d="M674.86 745.30 Q682.86 738.50 691.86 734.30" fill="none" stroke="#161616" stroke-width="1.2" clip-path="url(#cb14)"/>
<path d="M674.86 757.70 Q682.86 750.90 691.86 746.70" fill="none" stroke="#161616" stroke-width="1.2" clip-path="url(#cb14)"/>
<path d="M674.86 770.10 Q682.86 763.30 691.86 759.10" fill="none" stroke="#161616" stroke-width="1.2" clip-path="url(#cb14)"/>
<path d="M674.86 782.50 Q682.86 775.70 691.86 771.50" fill="none" stroke="#161616" stroke-width="1.2" clip-path="url(#cb14)"/>
<path d="M674.86 794.90 Q682.86 788.10 691.86 783.90" fill="none" stroke="#161616" stroke-width="1.2" clip-path="url(#cb14)"/>
<path d="M674.86 807.30 Q682.86 800.50 691.86 796.30" fill="none" stroke="#161616" stroke-width="1.2" clip-path="url(#cb14)"/>
<path d="M674.86 819.70 Q682.86 812.90 691.86 808.70" fill="none" stroke="#161616" stroke-width="1.2" clip-path="url(#cb14)"/>
<path d="M674.86 832.10 Q682.86 825.30 691.86 821.10" fill="none" stroke="#161616" stroke-width="1.2" clip-path="url(#cb14)"/>
<path d="M674.86 844.50 Q682.86 837.70 691.86 833.50" fill="none" stroke="#161616" stroke-width="1.2" clip-path="url(#cb14)"/>
<path d="M674.86 856.90 Q682.86 850.10 691.86 845.90" fill="none" stroke="#161616" stroke-width="1.2" clip-path="url(#cb14)"/>
<clipPath id="cb14"><rect x="673.86" y="430.80" width="19.0" height="426.35"/></clipPath>
<rect x="673.86" y="424.80" width="19.0" height="6" fill="#161616"/>
<rect x="673.86" y="857.15" width="19.0" height="6" fill="#161616"/>
<line x1="710.45" y1="396.8" x2="710.45" y2="863.0529906035417" stroke="#161616" stroke-width="2.1" stroke-dasharray="13 3"/>
<line x1="727.45" y1="396.8" x2="727.45" y2="863.0529906035417" stroke="#161616" stroke-width="2.1" stroke-dasharray="13 3"/>
<path d="M710.45 407.30 Q718.45 400.50 727.45 396.30" fill="none" stroke="#161616" stroke-width="1.2" clip-path="url(#cb15)"/>
<path d="M710.45 419.70 Q718.45 412.90 727.45 408.70" fill="none" stroke="#161616" stroke-width="1.2" clip-path="url(#cb15)"/>
<path d="M710.45 432.10 Q718.45 425.30 727.45 421.10" fill="none" stroke="#161616" stroke-width="1.2" clip-path="url(#cb15)"/>
<path d="M710.45 444.50 Q718.45 437.70 727.45 433.50" fill="none" stroke="#161616" stroke-width="1.2" clip-path="url(#cb15)"/>
<path d="M710.45 456.90 Q718.45 450.10 727.45 445.90" fill="none" stroke="#161616" stroke-width="1.2" clip-path="url(#cb15)"/>
<path d="M710.45 469.30 Q718.45 462.50 727.45 458.30" fill="none" stroke="#161616" stroke-width="1.2" clip-path="url(#cb15)"/>
<path d="M710.45 481.70 Q718.45 474.90 727.45 470.70" fill="none" stroke="#161616" stroke-width="1.2" clip-path="url(#cb15)"/>
<path d="M710.45 494.10 Q718.45 487.30 727.45 483.10" fill="none" stroke="#161616" stroke-width="1.2" clip-path="url(#cb15)"/>
<path d="M710.45 506.50 Q718.45 499.70 727.45 495.50" fill="none" stroke="#161616" stroke-width="1.2" clip-path="url(#cb15)"/>
<path d="M710.45 518.90 Q718.45 512.10 727.45 507.90" fill="none" stroke="#161616" stroke-width="1.2" clip-path="url(#cb15)"/>
<path d="M710.45 531.30 Q718.45 524.50 727.45 520.30" fill="none" stroke="#161616" stroke-width="1.2" clip-path="url(#cb15)"/>
<path d="M710.45 543.70 Q718.45 536.90 727.45 532.70" fill="none" stroke="#161616" stroke-width="1.2" clip-path="url(#cb15)"/>
<path d="M710.45 556.10 Q718.45 549.30 727.45 545.10" fill="none" stroke="#161616" stroke-width="1.2" clip-path="url(#cb15)"/>
<path d="M710.45 568.50 Q718.45 561.70 727.45 557.50" fill="none" stroke="#161616" stroke-width="1.2" clip-path="url(#cb15)"/>
<path d="M710.45 580.90 Q718.45 574.10 727.45 569.90" fill="none" stroke="#161616" stroke-width="1.2" clip-path="url(#cb15)"/>
<path d="M710.45 593.30 Q718.45 586.50 727.45 582.30" fill="none" stroke="#161616" stroke-width="1.2" clip-path="url(#cb15)"/>
<path d="M710.45 605.70 Q718.45 598.90 727.45 594.70" fill="none" stroke="#161616" stroke-width="1.2" clip-path="url(#cb15)"/>
<path d="M710.45 618.10 Q718.45 611.30 727.45 607.10" fill="none" stroke="#161616" stroke-width="1.2" clip-path="url(#cb15)"/>
<path d="M710.45 630.50 Q718.45 623.70 727.45 619.50" fill="none" stroke="#161616" stroke-width="1.2" clip-path="url(#cb15)"/>
<path d="M710.45 642.90 Q718.45 636.10 727.45 631.90" fill="none" stroke="#161616" stroke-width="1.2" clip-path="url(#cb15)"/>
<path d="M710.45 655.30 Q718.45 648.50 727.45 644.30" fill="none" stroke="#161616" stroke-width="1.2" clip-path="url(#cb15)"/>
<path d="M710.45 667.70 Q718.45 660.90 727.45 656.70" fill="none" stroke="#161616" stroke-width="1.2" clip-path="url(#cb15)"/>
<path d="M710.45 680.10 Q718.45 673.30 727.45 669.10" fill="none" stroke="#161616" stroke-width="1.2" clip-path="url(#cb15)"/>
<path d="M710.45 692.50 Q718.45 685.70 727.45 681.50" fill="none" stroke="#161616" stroke-width="1.2" clip-path="url(#cb15)"/>
<path d="M710.45 704.90 Q718.45 698.10 727.45 693.90" fill="none" stroke="#161616" stroke-width="1.2" clip-path="url(#cb15)"/>
<path d="M710.45 717.30 Q718.45 710.50 727.45 706.30" fill="none" stroke="#161616" stroke-width="1.2" clip-path="url(#cb15)"/>
<path d="M710.45 729.70 Q718.45 722.90 727.45 718.70" fill="none" stroke="#161616" stroke-width="1.2" clip-path="url(#cb15)"/>
<path d="M710.45 742.10 Q718.45 735.30 727.45 731.10" fill="none" stroke="#161616" stroke-width="1.2" clip-path="url(#cb15)"/>
<path d="M710.45 754.50 Q718.45 747.70 727.45 743.50" fill="none" stroke="#161616" stroke-width="1.2" clip-path="url(#cb15)"/>
<path d="M710.45 766.90 Q718.45 760.10 727.45 755.90" fill="none" stroke="#161616" stroke-width="1.2" clip-path="url(#cb15)"/>
<path d="M710.45 779.30 Q718.45 772.50 727.45 768.30" fill="none" stroke="#161616" stroke-width="1.2" clip-path="url(#cb15)"/>
<path d="M710.45 791.70 Q718.45 784.90 727.45 780.70" fill="none" stroke="#161616" stroke-width="1.2" clip-path="url(#cb15)"/>
<path d="M710.45 804.10 Q718.45 797.30 727.45 793.10" fill="none" stroke="#161616" stroke-width="1.2" clip-path="url(#cb15)"/>
<path d="M710.45 816.50 Q718.45 809.70 727.45 805.50" fill="none" stroke="#161616" stroke-width="1.2" clip-path="url(#cb15)"/>
<path d="M710.45 828.90 Q718.45 822.10 727.45 817.90" fill="none" stroke="#161616" stroke-width="1.2" clip-path="url(#cb15)"/>
<path d="M710.45 841.30 Q718.45 834.50 727.45 830.30" fill="none" stroke="#161616" stroke-width="1.2" clip-path="url(#cb15)"/>
<path d="M710.45 853.70 Q718.45 846.90 727.45 842.70" fill="none" stroke="#161616" stroke-width="1.2" clip-path="url(#cb15)"/>
<path d="M710.45 866.10 Q718.45 859.30 727.45 855.10" fill="none" stroke="#161616" stroke-width="1.2" clip-path="url(#cb15)"/>
<clipPath id="cb15"><rect x="709.45" y="402.80" width="19.0" height="454.25"/></clipPath>
<rect x="709.45" y="396.80" width="19.0" height="6" fill="#161616"/>
<rect x="709.45" y="857.05" width="19.0" height="6" fill="#161616"/>
<polyline points="175.60,833.90 211.19,794.90 246.78,769.30 282.37,744.60 317.96,713.80 353.55,677.50 389.14,655.10 424.73,627.20" fill="none" stroke="#161616" stroke-width="1.5"/>
<polyline points="424.73,627.20 460.32,600.40 495.91,570.80 531.50,542.00 567.09,512.50 602.68,482.70 638.27,455.30 673.86,424.80 709.45,396.80" fill="none" stroke="#161616" stroke-width="1.5" stroke-dasharray="9 4"/>
<text x="171.3" y="882" textLength="30.1" lengthAdjust="spacingAndGlyphs" font-family="Liberation Sans, sans-serif" font-size="16.3" fill="#161616" stroke="#161616" stroke-width="0.75">1850</text>
<text x="212.4" y="882" textLength="17.4" lengthAdjust="spacingAndGlyphs" font-family="Liberation Sans, sans-serif" font-size="16.3" fill="#161616" stroke="#161616" stroke-width="0.75">60</text>
<text x="249.0" y="882" textLength="16.3" lengthAdjust="spacingAndGlyphs" font-family="Liberation Sans, sans-serif" font-size="16.3" fill="#161616" stroke="#161616" stroke-width="0.75">70</text>
<text x="284.0" y="882" textLength="17.0" lengthAdjust="spacingAndGlyphs" font-family="Liberation Sans, sans-serif" font-size="16.3" fill="#161616" stroke="#161616" stroke-width="0.75">80</text>
<text x="319.1" y="882" textLength="18.0" lengthAdjust="spacingAndGlyphs" font-family="Liberation Sans, sans-serif" font-size="16.3" fill="#161616" stroke="#161616" stroke-width="0.75">90</text>
<text x="351.6" y="882" textLength="29.1" lengthAdjust="spacingAndGlyphs" font-family="Liberation Sans, sans-serif" font-size="16.3" fill="#161616" stroke="#161616" stroke-width="0.75">1900</text>
<text x="392.9" y="882" textLength="14.0" lengthAdjust="spacingAndGlyphs" font-family="Liberation Sans, sans-serif" font-size="16.3" fill="#161616" stroke="#161616" stroke-width="0.75">10</text>
<text x="426.1" y="882" textLength="16.1" lengthAdjust="spacingAndGlyphs" font-family="Liberation Sans, sans-serif" font-size="16.3" fill="#161616" stroke="#161616" stroke-width="0.75">20</text>
<text x="462.2" y="882" textLength="15.7" lengthAdjust="spacingAndGlyphs" font-family="Liberation Sans, sans-serif" font-size="16.3" fill="#161616" stroke="#161616" stroke-width="0.75">30</text>
<text x="497.1" y="882" textLength="18.9" lengthAdjust="spacingAndGlyphs" font-family="Liberation Sans, sans-serif" font-size="16.3" fill="#161616" stroke="#161616" stroke-width="0.75">40</text>
<text x="533.5" y="882" textLength="17.4" lengthAdjust="spacingAndGlyphs" font-family="Liberation Sans, sans-serif" font-size="16.3" fill="#161616" stroke="#161616" stroke-width="0.75">50</text>
<text x="567.9" y="882" textLength="17.4" lengthAdjust="spacingAndGlyphs" font-family="Liberation Sans, sans-serif" font-size="16.3" fill="#161616" stroke="#161616" stroke-width="0.75">60</text>
<text x="605.2" y="882" textLength="16.1" lengthAdjust="spacingAndGlyphs" font-family="Liberation Sans, sans-serif" font-size="16.3" fill="#161616" stroke="#161616" stroke-width="0.75">70</text>
<text x="639.3" y="882" textLength="18.0" lengthAdjust="spacingAndGlyphs" font-family="Liberation Sans, sans-serif" font-size="16.3" fill="#161616" stroke="#161616" stroke-width="0.75">80</text>
<text x="676.8" y="882" textLength="15.7" lengthAdjust="spacingAndGlyphs" font-family="Liberation Sans, sans-serif" font-size="16.3" fill="#161616" stroke="#161616" stroke-width="0.75">90</text>
<text x="704.8" y="882" textLength="33.1" lengthAdjust="spacingAndGlyphs" font-family="Liberation Sans, sans-serif" font-size="16.3" fill="#161616" stroke="#161616" stroke-width="0.75">2000</text>
<text x="437.1" y="895.9" textLength="55.6" lengthAdjust="spacingAndGlyphs" font-family="Liberation Sans, sans-serif" font-weight="bold" font-size="14" fill="#161616">Years</text>
<text transform="translate(193.4 690.2) rotate(-90)" x="0" y="0" textLength="129.3" lengthAdjust="spacing" font-family="Liberation Mono, monospace" font-size="16.5" fill="#161616" stroke="#161616" stroke-width="0.65">Population.</text>
</svg>
</body></html>
